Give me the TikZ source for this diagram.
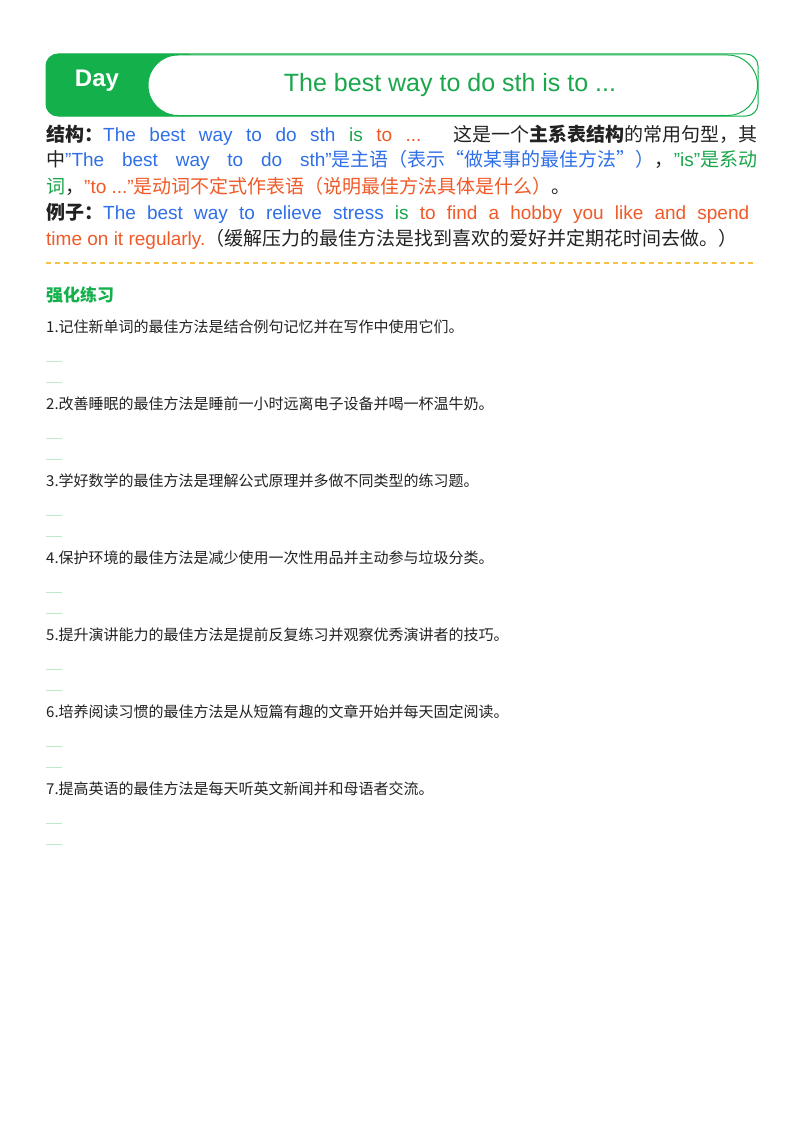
\documentclass[tikz,border=0pt]{standalone}
\usepackage{fontspec}
\setmainfont{Liberation Sans}
\newfontfamily\cjk{Noto Sans CJK SC}
\definecolor{hg}{HTML}{13B04B}
\definecolor{bl}{HTML}{2F6FE8}
\definecolor{gr}{HTML}{1AA64B}
\definecolor{og}{HTML}{F05A28}
\definecolor{dy}{HTML}{F5C242}
\definecolor{lg}{HTML}{BDEBC6}
\definecolor{tx}{HTML}{222222}
\begin{document}
\begin{tikzpicture}[x=1pt,y=-1pt,
  body/.style={anchor=west,inner sep=0pt,font=\fontsize{19}{22}\selectfont,text=tx},
  item/.style={anchor=west,inner sep=0pt,font=\cjk\fontsize{15}{18}\selectfont,text=tx},
  ans/.style={lg,line width=1pt}]
\useasboundingbox (0,0) rectangle (800,1132);
\fill[white] (0,0) rectangle (800,1132);
% header
\draw[hg,line width=1pt,rounded corners=12] (46,54) rectangle (758,116);
\fill[hg,rounded corners=12] (46,54) rectangle (200,116);
\draw[hg,line width=1pt,fill=white,rounded corners=30] (148,55) rectangle (757.5,115.5);
\node[text=white,font=\bfseries\fontsize{24}{26}\selectfont] (day) at (97,81) {Day};
\node[text=gr,font=\fontsize{25}{28}\selectfont] (title) at (450,85) {The best way to do sth is to ...};
% structure
\node[body] (l1) at (46,135) {\makebox[711pt][s]{{\cjk\bfseries 结构：}\textcolor{bl}{The best way to do sth} \textcolor{gr}{is} \textcolor{og}{to ...} {\cjk 这是一个\textbf{主系表结构}的常用句型，其}}};
\node[body] (l2) at (46,160) {\makebox[711pt][s]{{\cjk 中}\textcolor{bl}{"The best way to do sth"{\cjk 是主语（表示“做某事的最佳方法”）}}{\cjk ，}\textcolor{gr}{"is"{\cjk 是系动}}}};
\node[body] (l3) at (46,186) {\textcolor{gr}{\cjk 词}{\cjk ，}\textcolor{og}{"to ..."{\cjk 是动词不定式作表语（说明最佳方法具体是什么）}}{\cjk 。}};
\node[body] (l4) at (46,213) {\makebox[703pt][s]{{\cjk\bfseries 例子：}\textcolor{bl}{The best way to relieve stress} \textcolor{gr}{is} \textcolor{og}{to find a hobby you like and spend}}};
\node[body] (l5) at (46,239) {\textcolor{og}{time on it regularly.}{\cjk （缓解压力的最佳方法是找到喜欢的爱好并定期花时间去做。）}};
\draw[dy,line width=1.2pt,dash pattern=on 5pt off 4pt] (46,263) -- (757,263);
\node[anchor=west,inner sep=0pt,text=hg,font=\cjk\bfseries\fontsize{17}{20}\selectfont] (sec) at (46,295) {强化练习};
\foreach \i/\t in {1/记住新单词的最佳方法是结合例句记忆并在写作中使用它们。,
 2/改善睡眠的最佳方法是睡前一小时远离电子设备并喝一杯温牛奶。,
 3/学好数学的最佳方法是理解公式原理并多做不同类型的练习题。,
 4/保护环境的最佳方法是减少使用一次性用品并主动参与垃圾分类。,
 5/提升演讲能力的最佳方法是提前反复练习并观察优秀演讲者的技巧。,
 6/培养阅读习惯的最佳方法是从短篇有趣的文章开始并每天固定阅读。,
 7/提高英语的最佳方法是每天听英文新闻并和母语者交流。}{
  \pgfmathsetmacro\yy{327+77*(\i-1)}
  \node[item] (q\i) at (46,\yy) {\i.\t};
  \draw[ans] (46,\yy+34) -- (62,\yy+34);
  \draw[ans] (46,\yy+55) -- (62,\yy+55);
}
\end{tikzpicture}
\end{document}
